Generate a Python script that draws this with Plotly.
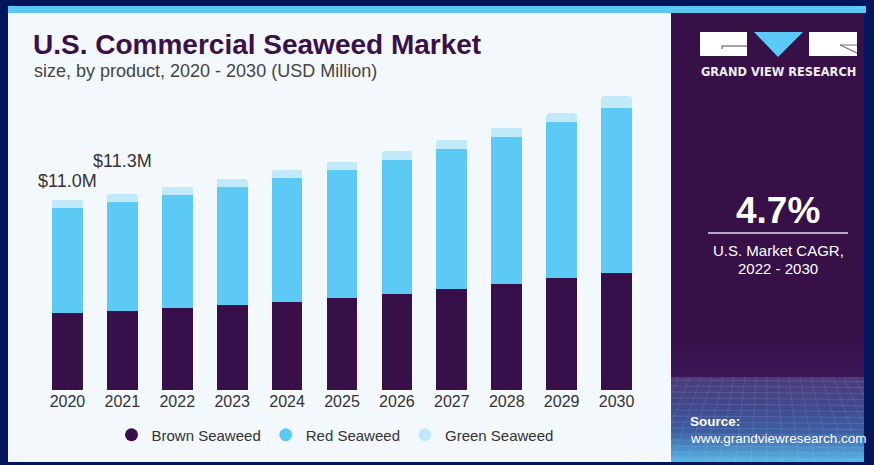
import plotly.graph_objects as go

years = ["2020", "2021", "2022", "2023", "2024", "2025", "2026", "2027", "2028", "2029", "2030"]
brown = [4.46, 4.58, 4.77, 4.95, 5.10, 5.33, 5.54, 5.85, 6.16, 6.49, 6.78]
red = [6.09, 6.29, 6.50, 6.79, 7.15, 7.41, 7.76, 8.09, 8.51, 9.00, 9.56]
green = [0.45, 0.45, 0.50, 0.48, 0.48, 0.48, 0.52, 0.54, 0.52, 0.52, 0.66]
series_names = ["Brown Seaweed", "Red Seaweed", "Green Seaweed"]
series_colors = ["#381049", "#5ccaf5", "#c0e9fa"]
value_labels = {"2020": "$11.0M", "2021": "$11.3M"}

W_FIG, H_FIG = 874, 465
L, R, T, B = 40, 230, 90, 75
PW, PH = W_FIG - L - R, H_FIG - T - B
BOTTOM = H_FIG - B


def px(x):
    return (x - L) / PW


def py(y):
    return (BOTTOM - y) / PH


NAVY = "#03165c"
PANEL = "#f3f8fc"
PURPLE = "#381048"

fig = go.Figure()
for name, vals, col in zip(series_names, [brown, red, green], series_colors):
    fig.add_trace(go.Bar(x=years, y=vals, name=name, marker=dict(color=col, line=dict(width=0)),
                         showlegend=False))
for name, col in zip(series_names, series_colors):
    fig.add_trace(go.Scatter(x=[None], y=[None], mode="markers", name=name,
                             marker=dict(symbol="circle", size=13, color=col)))

totals = [b + r + g for b, r, g in zip(brown, red, green)]

shapes = []


def rect(x0, y0, x1, y1, color, layer="below"):
    shapes.append(dict(type="rect", xref="paper", yref="paper", x0=px(x0), x1=px(x1),
                       y0=py(y1), y1=py(y0), fillcolor=color, line=dict(width=0), layer=layer))


def line(x0, y0, x1, y1, color, width=1.5, layer="above"):
    shapes.append(dict(type="line", xref="paper", yref="paper", x0=px(x0), x1=px(x1),
                       y0=py(y0), y1=py(y1), line=dict(color=color, width=width), layer=layer))


def hexrgb(h):
    h = h.lstrip("#")
    return tuple(int(h[i:i + 2], 16) for i in (0, 2, 4))


def gradient(x0, x1, stops, steps_per_px=1.0):
    for (ya, ca), (yb, cb) in zip(stops[:-1], stops[1:]):
        ca, cb = hexrgb(ca), hexrgb(cb)
        n = max(1, int((yb - ya) * steps_per_px / 2))
        for i in range(n):
            t = (i + 0.5) / n
            c = tuple(int(ca[k] + (cb[k] - ca[k]) * t) for k in range(3))
            y0 = ya + (yb - ya) * i / n
            y1 = ya + (yb - ya) * (i + 1) / n + 0.6
            rect(x0, y0, x1, y1, "rgb(%d,%d,%d)" % c)


# light main panel and top stripe
rect(8, 7, 866, 462, PANEL)
rect(8, 6, 866, 13, "#5ac8f2")
# right purple panel
rect(671, 13, 864, 462, PURPLE)
gradient(671, 864, [(330, "#381048"), (377, "#3d1858")])
gradient(671, 864, [(377, "#4b3c7a"), (405, "#43488c"), (432, "#3d5fa4"), (462, "#58b6e8")])
# faint grid texture
for yy in [380, 386, 392, 398, 404, 410, 416, 422, 428, 434, 440, 446, 452, 458]:
    line(671, yy, 864, yy + 1.5, "rgba(220,230,255,0.13)", 1, "below")
for xx in range(668, 880, 11):
    line(xx, 377, xx + (xx - 767) * 0.45, 462, "rgba(220,230,255,0.11)", 1, "below")
rect(864, 13, 874, 465, NAVY)
rect(0, 462, 874, 465, NAVY)

# logo
shapes.append(dict(type="rect", xref="paper", yref="paper", x0=px(700), x1=px(747), y0=py(56), y1=py(32),
                   fillcolor="white", line=dict(width=0), layer="above"))
shapes.append(dict(type="rect", xref="paper", yref="paper", x0=px(809), x1=px(857), y0=py(56), y1=py(32),
                   fillcolor="white", line=dict(width=0), layer="above"))
shapes.append(dict(type="path", xref="paper", yref="paper",
                   path="M %f,%f L %f,%f L %f,%f Z" % (px(754), py(32), px(803), py(32), px(778), py(57)),
                   fillcolor="#5ccaf5", line=dict(width=0), layer="above"))
line(722, 46, 747, 46, "#7a6a88", 1.3)
line(722, 45.5, 722, 49, "#7a6a88", 1.3)
line(840, 45, 857, 53, "#7a6a88", 1.2)
line(840, 45, 857, 45, "#7a6a88", 1.0)
# CAGR underline
line(708, 233, 848, 233, "rgba(255,255,255,0.85)", 1.5)

annotations = []


def text(x, y, s, size, color, xanchor="left", family="Liberation Sans, Arial", bold=False):
    annotations.append(dict(xref="paper", yref="paper", x=px(x), y=py(y), text=s, showarrow=False,
                            xanchor=xanchor, yanchor="middle",
                            font=dict(size=size, color=color, family=family,
                                      weight="bold" if bold else "normal")))


text(31, 44, "U.S. Commercial Seaweed Market", 28, "#3b1049", bold=True)
text(32, 71, "size, by product, 2020 - 2030 (USD Million)", 18, "#444444")
text(778, 72, "GRAND VIEW RESEARCH", 11.4, "#eeeeee", "center", "DejaVu Sans", True)
text(778, 210, "4.7%", 37, "white", "center", bold=True)
text(778, 250, "U.S. Market CAGR,", 15, "white", "center")
text(778, 268, "2022 - 2030", 15, "white", "center")
text(688, 421, "Source:", 13.5, "white", bold=True)
text(688, 438, "www.grandviewresearch.com", 13.5, "white")

yshifts = {"2020": 19, "2021": 33}
for yr, lab in value_labels.items():
    i = years.index(yr)
    annotations.append(dict(x=i, y=totals[i], xref="x", yref="y", text=lab, showarrow=False,
                            yanchor="middle", yshift=yshifts[yr],
                            font=dict(size=18, color="#333333", family="Liberation Sans, Arial")))

fig.update_layout(
    width=W_FIG, height=H_FIG,
    margin=dict(l=L, r=R, t=T, b=B, pad=0, autoexpand=False),
    paper_bgcolor=NAVY, plot_bgcolor="rgba(0,0,0,0)",
    barmode="stack", bargap=0.44, barcornerradius=2,
    shapes=shapes, annotations=annotations,
    font=dict(family="Liberation Sans, Arial", color="#333333"),
    xaxis=dict(type="category", showgrid=False, zeroline=False, showline=False, ticks="",
               tickfont=dict(size=16, color="#333333"), range=[-0.5, 10.5], fixedrange=True,
               automargin=False),
    yaxis=dict(range=[0, PH * 11.0 / 190.0], visible=False, showgrid=False, fixedrange=True),
    legend=dict(orientation="h", xref="container", yref="container", x=335 / W_FIG, xanchor="center",
                y=1 - 435 / H_FIG, yanchor="middle", bgcolor="rgba(0,0,0,0)", traceorder="normal",
                font=dict(size=15, color="#333333")),
    showlegend=True,
)
fig.write_html("out.html")
